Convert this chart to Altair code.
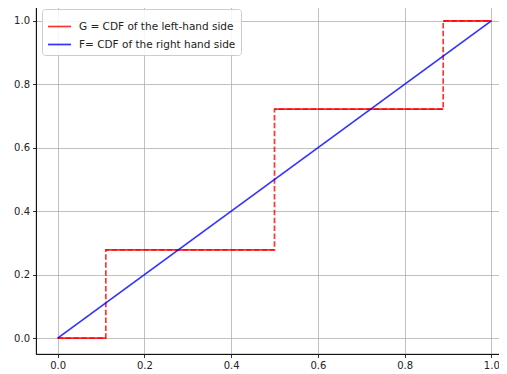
import altair as alt
import pandas as pd

# Data
step_x = [0.0, 0.111, 0.5, 0.889, 1.0]
step_y = [0.0, 0.278, 0.722, 1.0]
line_x = [0.0, 1.0]
line_y = [0.0, 1.0]
ticks = [0.0, 0.2, 0.4, 0.6, 0.8, 1.0]
label_g = "G = CDF of the left-hand side"
label_f = "F= CDF of the right hand side"

# horizontal solid segments of G
h_df = pd.DataFrame({
    "x": step_x[:-1],
    "x2": step_x[1:],
    "y": step_y,
    "series": [label_g] * len(step_y),
})
# dashed step path of G (points where the step starts)
d_df = pd.DataFrame({
    "x": step_x,
    "y": step_y + [step_y[-1]],
})
# F line
f_df = pd.DataFrame({"x": line_x, "y": line_y, "series": [label_f] * len(line_x)})

xs = alt.Scale(domain=[-0.05, 1.05], nice=False, zero=False)
ys = alt.Scale(domain=[-0.05, 1.05], nice=False, zero=False)
cs = alt.Scale(domain=[label_g, label_f], range=["#ff0000", "#0000ff"])

xax = alt.Axis(values=ticks, format=".1f", title=None, grid=True)
yax = alt.Axis(values=ticks, format=".1f", title=None, grid=True)

legend = alt.Legend(
    title=None,
    orient="none",
    legendX=6,
    legendY=4,
    symbolType="M-1,0L1,0",
    symbolSize=529,
    symbolStrokeWidth=1.7,
    symbolOpacity=0.8,
    labelFontSize=10.5,
    labelFont="DejaVu Sans",
    labelColor="#222222",
    labelOffset=7,
    rowPadding=-9,
    padding=5,
    fillColor="rgba(255,255,255,0.85)",
    strokeColor="#cccccc",
    cornerRadius=3,
)

dashed = alt.Chart(d_df).mark_line(
    interpolate="step-after", color="#ff0000", opacity=0.8, strokeWidth=1.7,
    strokeDash=[5.5, 2.4],
).encode(
    x=alt.X("x:Q", scale=xs, axis=xax),
    y=alt.Y("y:Q", scale=ys, axis=yax),
    order="x:Q",
)

horiz = alt.Chart(h_df).mark_rule(opacity=0.8, strokeWidth=1.7).encode(
    x=alt.X("x:Q", scale=xs),
    x2="x2:Q",
    y=alt.Y("y:Q", scale=ys),
    color=alt.Color("series:N", scale=cs, legend=legend),
)

fline = alt.Chart(f_df).mark_line(opacity=0.8, strokeWidth=1.7).encode(
    x=alt.X("x:Q", scale=xs),
    y=alt.Y("y:Q", scale=ys),
    color=alt.Color("series:N", scale=cs, legend=legend),
)

chart = alt.layer(horiz, dashed, fline).properties(
    width=477,
    height=349,
    autosize=alt.AutoSizeParams(type="none"),
    padding={"left": 28, "top": -3, "right": -14, "bottom": 20},
).configure_view(
    stroke="#000000", strokeWidth=0.8,
).configure_axis(
    gridColor="#b0b0b0",
    gridWidth=0.8,
    domainColor="#000000",
    domainWidth=0.8,
    tickColor="#000000",
    tickSize=3.5,
    tickWidth=0.8,
    labelFont="DejaVu Sans",
    labelFontSize=10,
    labelColor="#222222",
    labelPadding=3,
)

chart.save("out.html", embed_options={"renderer": "svg", "actions": False})
